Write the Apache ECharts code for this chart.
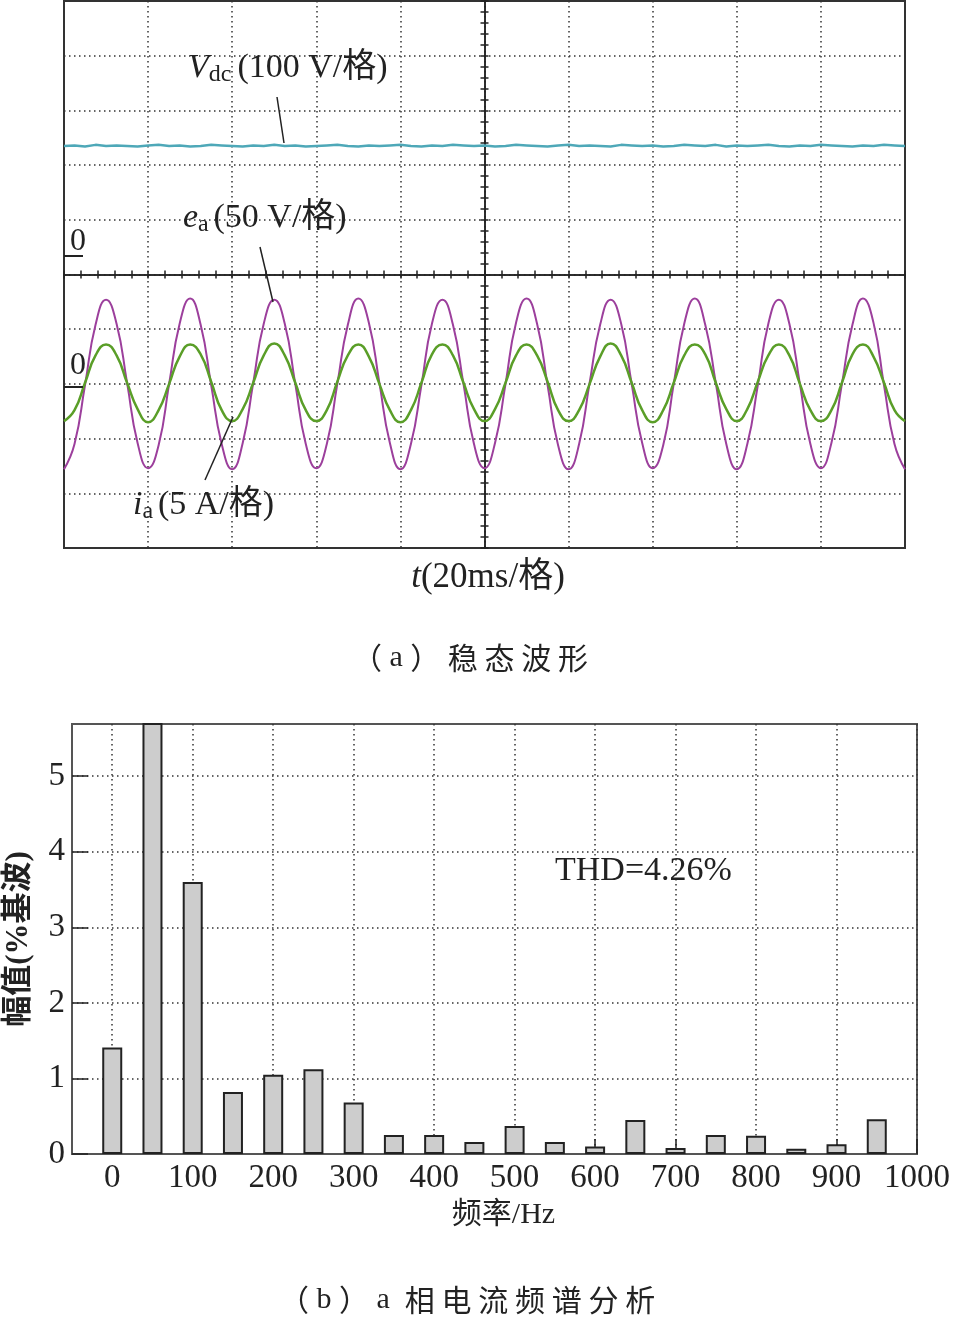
<!DOCTYPE html>
<html>
<head>
<meta charset="utf-8">
<script src="https://cdn.jsdelivr.net/npm/echarts@6/dist/echarts.min.js"></script>
<style>
html,body{margin:0;padding:0;background:#fff;}
#main{width:955px;height:1318px;}
</style>
</head>
<body>
<div id="main"></div>
<script>
// ---------- (a) steady-state waveforms (time in ms, 20 ms / division) ----------
const tMs = [-100,-97.5,-95,-92.5,-90,-87.5,-85,-82.5,-80,-77.5,-75,-72.5,-70,-67.5,-65,-62.5,-60,-57.5,-55,-52.5,
  -50,-47.5,-45,-42.5,-40,-37.5,-35,-32.5,-30,-27.5,-25,-22.5,-20,-17.5,-15,-12.5,-10,-7.5,-5,-2.5,
  0,2.5,5,7.5,10,12.5,15,17.5,20,22.5,25,27.5,30,32.5,35,37.5,40,42.5,45,47.5,
  50,52.5,55,57.5,60,62.5,65,67.5,70,72.5,75,77.5,80,82.5,85,87.5,90,92.5,95,97.5,100];
// DC-link voltage, V
const vdcV = [199,200,198,201,199,200,199,198,200,201,
  199,200,198,199,201,200,199,198,200,199,
  201,199,200,198,199,200,201,199,198,200,
  199,200,201,199,198,200,199,201,200,199,
  200,198,199,201,200,199,198,200,201,199,
  200,199,198,201,200,199,200,198,199,201,
  200,199,201,198,200,199,200,201,199,198,
  200,199,201,200,199,198,200,199,201,200,
  199];
// phase-a grid voltage, V
const eaV = [-78,-55,-1,54,77,55,1,-54,
  -77,-56,0,55,78,54,-1,-55,
  -78,-54,1,55,77,55,0,-55,
  -77,-55,0,54,78,56,1,-54,
  -78,-55,-1,55,77,54,0,-55,
  -77,-54,0,56,78,55,-1,-56,
  -78,-55,1,54,77,55,0,-54,
  -77,-56,0,55,78,54,1,-55,
  -78,-55,-1,55,77,55,0,-55,
  -77,-54,0,54,78,56,-1,-55,
  -78];
// phase-a current, A
const iaA = [-3.4,-2.4,0.1,2.6,3.6,2.6,0.1,-2.3,
  -3.5,-2.4,0.0,2.5,3.6,2.7,0.2,-2.4,
  -3.4,-2.3,0.1,2.6,3.7,2.6,0.1,-2.4,
  -3.4,-2.4,0.2,2.6,3.6,2.5,0.0,-2.4,
  -3.5,-2.4,0.1,2.7,3.6,2.6,0.1,-2.3,
  -3.4,-2.3,0.1,2.6,3.6,2.6,0.2,-2.4,
  -3.4,-2.4,0.0,2.5,3.7,2.6,0.1,-2.4,
  -3.5,-2.4,0.1,2.6,3.6,2.7,0.1,-2.3,
  -3.4,-2.3,0.2,2.6,3.6,2.6,0.0,-2.4,
  -3.4,-2.4,0.1,2.7,3.6,2.5,0.1,-2.4,
  -3.4];

// ---------- (b) phase-a current spectrum ----------
const freqs = [0,50,100,150,200,250,300,350,400,450,500,550,600,650,700,750,800,850,900,950];
const mags  = [1.41,100,3.60,0.82,1.05,1.12,0.68,0.25,0.25,0.16,0.37,0.16,0.10,0.45,0.08,0.25,0.24,0.07,0.13,0.46];
const freqTicks = [0,100,200,300,400,500,600,700,800,900,1000];
const magTicks = [0,1,2,3,4,5];

const SERIF = "'Liberation Serif','Noto Sans CJK SC',serif";
const CJKONLY = "'Noto Sans CJK SC',sans-serif";
const INK = '#222';
const dotted = [1.5, 3.5];

function zip(xs, ys){ return xs.map((x,i)=>[x, ys[i]]); }

const chart = echarts.init(document.getElementById('main'), null, {renderer:'canvas'});

const scopeX = (inside, withSplit) => ({
  gridIndex:0, type:'value', min:-100, max:100, interval:20, position:'bottom',
  axisLine:{show:true, onZero:true, onZeroAxisIndex:0, lineStyle:{color:INK, width:1.5}},
  axisTick:{show:true, inside:inside, length:4, lineStyle:{color:INK, width:1.5}},
  minorTick:{show:true, splitNumber:5, length:4, lineStyle:{color:INK, width:1.5}},
  axisLabel:{show:false},
  splitLine:{show:withSplit, lineStyle:{color:'#333', width:1.5, type:dotted}}
});
const scopeY = (inside, withSplit) => ({
  gridIndex:0, type:'value', min:-5, max:5, interval:1, position:'left',
  axisLine:{show:true, onZero:true, onZeroAxisIndex:0, lineStyle:{color:INK, width:1.5}},
  axisTick:{show:true, inside:inside, length:4, lineStyle:{color:INK, width:1.5}},
  minorTick:{show:true, splitNumber:5, length:4, lineStyle:{color:INK, width:1.5}},
  axisLabel:{show:false},
  splitLine:{show:withSplit, lineStyle:{color:'#333', width:1.5, type:dotted}}
});
const hiddenY = (mn, mx) => ({gridIndex:0, type:'value', min:mn, max:mx, show:false,
  axisLine:{onZero:false}, splitLine:{show:false}});

const labelRich = (size, sub) => ({
  v:{fontFamily:SERIF, fontSize:size, fontStyle:'italic', fill:INK, lineHeight:size+4},
  s:{fontFamily:SERIF, fontSize:sub, fill:INK, lineHeight:sub, verticalAlign:'bottom'},
  n:{fontFamily:SERIF, fontSize:size, fill:INK, lineHeight:size+4}
});
const capRich = {
  p:{fontFamily:CJKONLY, fontSize:30, fill:INK},
  a:{fontFamily:SERIF, fontSize:30, fill:INK},
  c:{fontFamily:CJKONLY, fontSize:30, fill:INK}
};

const option = {
  animation:false,
  backgroundColor:'#fff',
  grid:[
    {left:64, top:1, width:841, height:547, outerBoundsMode:'none', show:true, borderColor:'#333', borderWidth:2, backgroundColor:'rgba(0,0,0,0)'},
    {left:72, top:724, width:845, height:430, outerBoundsMode:'none', show:true, borderColor:'#555', borderWidth:2, backgroundColor:'rgba(0,0,0,0)'}
  ],
  xAxis:[
    scopeX(false, true),
    scopeX(true, false),
    {gridIndex:1, type:'value', min:-50, max:1000, position:'bottom',
      axisLine:{show:true, onZero:false, lineStyle:{color:'#555', width:2}},
      axisTick:{show:true, inside:true, length:15, customValues:freqTicks, lineStyle:{color:INK, width:1.5}},
      axisLabel:{show:true, customValues:freqTicks, formatter:(v)=>String(v), fontFamily:SERIF, fontSize:33, color:INK, margin:8},
      splitLine:{show:true, lineStyle:{color:'#333', width:1.5, type:dotted}},
      name:'频率/Hz', nameLocation:'middle', nameGap:46,
      nameTextStyle:{fontFamily:SERIF, fontSize:30, color:INK, padding:[0,0,0,18]}}
  ],
  yAxis:[
    scopeY(false, true),
    scopeY(true, false),
    hiddenY(-536, 464),   // Vdc: 100 V/div
    hiddenY(-150, 350),   // ea: 50 V/div
    hiddenY(-15, 35),     // ia: 5 A/div
    {gridIndex:1, type:'value', min:0, max:5.69, position:'left',
      axisLine:{show:true, onZero:false, lineStyle:{color:'#555', width:2}},
      axisTick:{show:true, inside:true, length:16, customValues:magTicks, lineStyle:{color:INK, width:1.5}},
      axisLabel:{show:true, customValues:magTicks, fontFamily:SERIF, fontSize:33, color:INK, margin:7},
      splitLine:{show:true, lineStyle:{color:'#333', width:1.5, type:dotted}},
      name:'幅值(%基波)', nameLocation:'middle', nameGap:38, nameRotate:90,
      nameTextStyle:{fontFamily:SERIF, fontSize:31, color:INK, fontWeight:'bold'}}
  ],
  series:[
    {type:'line', name:'Vdc', xAxisIndex:0, yAxisIndex:2, data:zip(tMs, vdcV), showSymbol:false, smooth:false,
      lineStyle:{color:'#4ea8b8', width:2.5}, z:3},
    {type:'line', name:'ea', xAxisIndex:0, yAxisIndex:3, data:zip(tMs, eaV), showSymbol:false, smooth:true,
      lineStyle:{color:'#9c3f9c', width:2}, z:3},
    {type:'line', name:'ia', xAxisIndex:0, yAxisIndex:4, data:zip(tMs, iaA), showSymbol:false, smooth:true,
      lineStyle:{color:'#5a9e28', width:2.5}, z:4},
    {type:'bar', name:'spectrum', xAxisIndex:2, yAxisIndex:5, data:zip(freqs, mags), barWidth:20, clip:true,
      itemStyle:{color:'#cdcdcd', borderColor:INK, borderWidth:2}}
  ],
  graphic:[
    // channel labels
    {type:'text', x:188, y:68, z:10, style:{text:'{v|V}{s|dc }{n|(100 V/格)}', align:'left', verticalAlign:'middle', rich:labelRich(34,24)}},
    {type:'text', x:183, y:218, z:10, style:{text:'{v|e}{s|a\u2009}{n|(50 V/格)}', align:'left', verticalAlign:'middle', rich:labelRich(34,24)}},
    {type:'text', x:133, y:505, z:10, style:{text:'{v|i}{s|a\u2009}{n|(5 A/格)}', align:'left', verticalAlign:'middle', rich:labelRich(34,24)}},
    // leader lines
    {type:'line', z:10, shape:{x1:277, y1:97, x2:284, y2:143}, style:{stroke:INK, lineWidth:1.5}},
    {type:'line', z:10, shape:{x1:260, y1:247, x2:273, y2:302}, style:{stroke:INK, lineWidth:1.5}},
    {type:'line', z:10, shape:{x1:205, y1:480, x2:233, y2:417}, style:{stroke:INK, lineWidth:1.5}},
    // ground markers
    {type:'line', z:10, shape:{x1:64, y1:256, x2:83, y2:256}, style:{stroke:INK, lineWidth:2}},
    {type:'text', x:78, y:242, z:10, style:{text:'0', fontFamily:SERIF, fontSize:32, fill:INK, align:'center', verticalAlign:'middle'}},
    {type:'line', z:10, shape:{x1:64, y1:387, x2:83, y2:387}, style:{stroke:INK, lineWidth:2}},
    {type:'text', x:78, y:366, z:10, style:{text:'0', fontFamily:SERIF, fontSize:32, fill:INK, align:'center', verticalAlign:'middle'}},
    // time axis name
    {type:'text', x:488, y:578, z:10, style:{text:'{v|t}{n|(20ms/格)}', align:'center', verticalAlign:'middle',
      rich:{v:{fontFamily:SERIF, fontSize:35, fontStyle:'italic', fill:INK}, n:{fontFamily:SERIF, fontSize:35, fill:INK}}}},
    // captions
    {type:'text', x:352, y:658, z:10, style:{text:'{p|（}{a| a }{p|）}{a| }{c|稳 态 波 形}', align:'left', verticalAlign:'middle', rich:capRich}},
    {type:'text', x:279, y:1300, z:10, style:{text:'{p|（}{a| b }{p|）}{a| a  }{c|相 电 流 频 谱 分 析}', align:'left', verticalAlign:'middle', rich:capRich}},
    // THD annotation
    {type:'text', x:555, y:871, z:10, style:{text:'THD=4.26%', fontFamily:SERIF, fontSize:34, fill:INK, align:'left', verticalAlign:'middle'}}
  ]
};
chart.setOption(option);
</script>
</body>
</html>
